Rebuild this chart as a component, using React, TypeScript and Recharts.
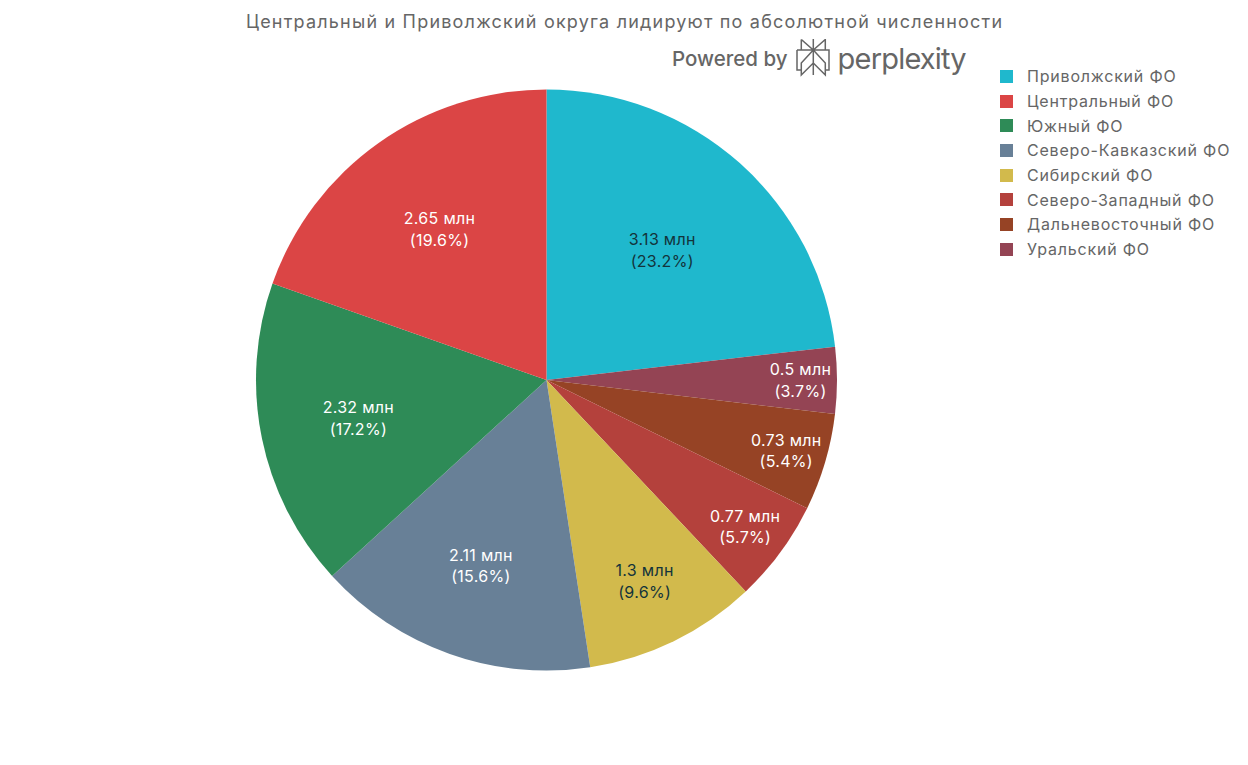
import { Cell, Legend, Pie, PieChart } from 'recharts';

const districts = ['Приволжский ФО', 'Уральский ФО', 'Дальневосточный ФО', 'Северо-Западный ФО', 'Сибирский ФО', 'Северо-Кавказский ФО', 'Южный ФО', 'Центральный ФО'];
const population = [3.13, 0.5, 0.73, 0.77, 1.3, 2.11, 2.32, 2.65];
const populationLabels = ['3.13 млн', '0.5 млн', '0.73 млн', '0.77 млн', '1.3 млн', '2.11 млн', '2.32 млн', '2.65 млн'];
const shareLabels = ['(23.2%)', '(3.7%)', '(5.4%)', '(5.7%)', '(9.6%)', '(15.6%)', '(17.2%)', '(19.6%)'];
const sliceColors = ['#1FB8CD', '#944454', '#964325', '#B4413C', '#D2BA4C', '#688097', '#2E8B57', '#DB4545'];
const labelColors = ['#13343B', '#FFFFFF', '#FFFFFF', '#FFFFFF', '#13343B', '#FFFFFF', '#FFFFFF', '#FFFFFF'];
const labelRadius = [174, 254, 250, 247, 224, 197, 192, 185];
const legendOrder = ['Приволжский ФО', 'Центральный ФО', 'Южный ФО', 'Северо-Кавказский ФО', 'Сибирский ФО', 'Северо-Западный ФО', 'Дальневосточный ФО', 'Уральский ФО'];

const data = districts.map((name, i) => ({ name, value: population[i] }));
const FONT = 'Inter, "Noto Sans", sans-serif';
const GREY = '#666666';

function SliceLabel({ cx, cy, midAngle, index }: any) {
  const rad = (midAngle * Math.PI) / 180;
  const x = cx + labelRadius[index] * Math.cos(rad);
  const y = cy - labelRadius[index] * Math.sin(rad);
  return (
    <text x={x} y={y} textAnchor="middle" fontFamily={FONT} fontSize={16} letterSpacing={0.3} fill={labelColors[index]}>
      <tspan x={x} dy={-5}>{populationLabels[index]}</tspan>
      <tspan x={x} dy={21.5}>{shareLabels[index]}</tspan>
    </text>
  );
}

function DistrictLegend() {
  return (
    <div style={{ fontFamily: FONT, fontSize: 16, letterSpacing: 0.8, color: GREY }}>
      {legendOrder.map((name) => (
        <div key={name} style={{ display: 'flex', alignItems: 'center', height: 24.7, whiteSpace: 'nowrap' }}>
          <span
            style={{
              width: 13,
              height: 13,
              marginRight: 14,
              background: sliceColors[districts.indexOf(name)],
            }}
          />
          {name}
        </div>
      ))}
    </div>
  );
}

function PerplexityMark() {
  return (
    <svg width={34} height={38} viewBox="0 0 34 38" fill="none" stroke={GREY} strokeWidth={1.5} style={{ flex: 'none' }}>
      <path d="M17.3 0V36M5.3 .5L17.3 11L29.3 .5V11M5.3 .5V11M1 11H33V31H29.3M1 11V31H5.3M17.3 11L5.3 24V36L17.3 24L29.3 36V24L17.3 11" />
    </svg>
  );
}

export default function App() {
  return (
    <div style={{ position: 'absolute', left: 0, top: 0, width: 1248, height: 765, background: '#fff', overflow: 'hidden' }}>
      <PieChart width={1248} height={765} margin={{ top: 0, right: 0, bottom: 0, left: 0 }}>
        <Legend
          content={<DistrictLegend />}
          layout="vertical"
          align="right"
          verticalAlign="top"
          wrapperStyle={{ left: 1000, right: 'auto', top: 64, width: 245 }}
        />
        <Pie
          data={data}
          dataKey="value"
          nameKey="name"
          cx={546.5}
          cy={380}
          outerRadius={290.5}
          startAngle={90}
          endAngle={-270}
          stroke="none"
          label={SliceLabel}
          labelLine={false}
          isAnimationActive={false}
        >
          {data.map((d, i) => (
            <Cell key={d.name} fill={sliceColors[i]} />
          ))}
        </Pie>
      </PieChart>
      <div style={{ position: 'absolute', left: 246, top: 11, fontFamily: FONT, fontSize: 18, letterSpacing: 1.2, color: GREY, whiteSpace: 'nowrap' }}>
        Центральный и Приволжский округа лидируют по абсолютной численности
      </div>
      <div style={{ position: 'absolute', left: 672, top: 39, height: 38, display: 'flex', alignItems: 'center', color: GREY, fontFamily: FONT, whiteSpace: 'nowrap' }}>
        <span style={{ fontSize: 20.5, fontWeight: 500, marginRight: 8 }}>Powered by</span>
        <PerplexityMark />
        <span style={{ fontSize: 29, marginLeft: 8, letterSpacing: -0.8 }}>perplexity</span>
      </div>
    </div>
  );
}
